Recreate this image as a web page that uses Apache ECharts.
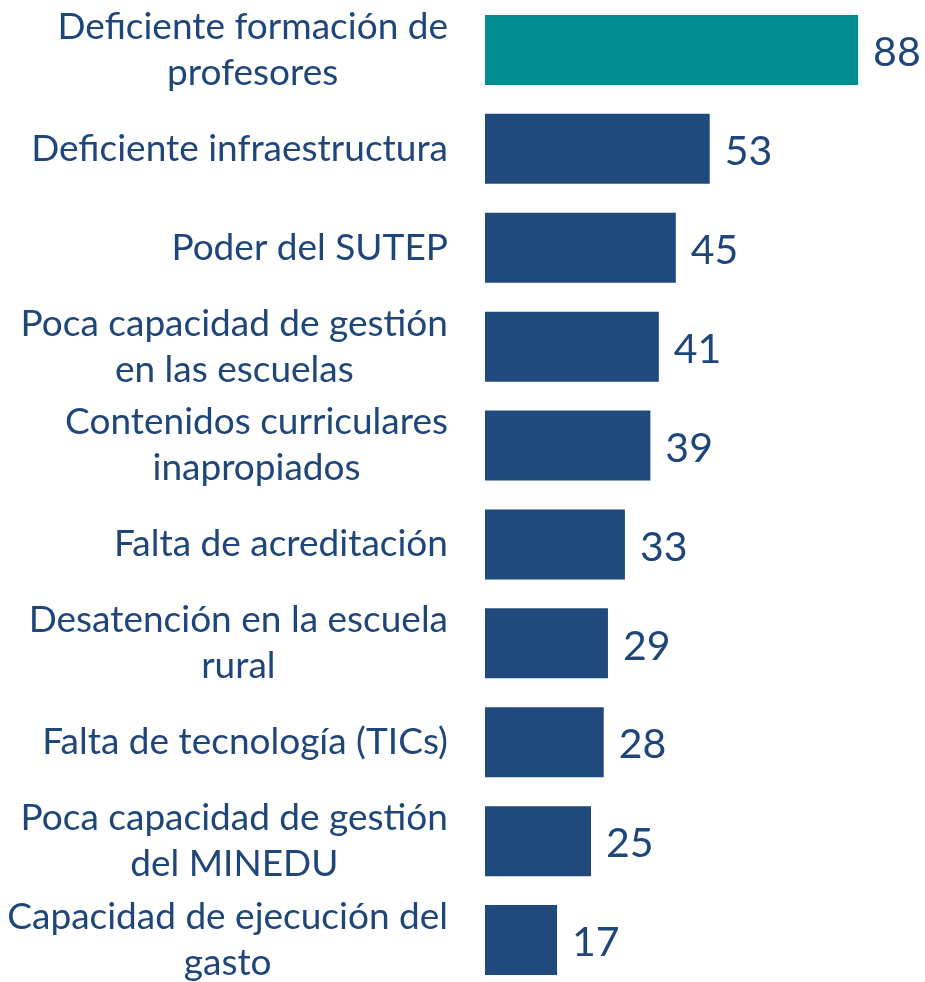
<!DOCTYPE html>
<html>
<head>
<meta charset="utf-8">
<title>Problemas de la educación</title>
<script src="https://cdn.jsdelivr.net/npm/echarts@6/dist/echarts.min.js"></script>
<style>
  html, body { margin: 0; padding: 0; background: #fff; }
  #main { width: 925px; height: 982px; }
</style>
</head>
<body>
<div id="main"></div>
<script>
// categorias (de arriba hacia abajo)
var categories = [
    'Deficiente formación de\nprofesores',
    'Deficiente infraestructura',
    'Poder del SUTEP',
    'Poca capacidad de gestión\nen las escuelas',
    'Contenidos curriculares\ninapropiados',
    'Falta de acreditación',
    'Desatención en la escuela\nrural',
    'Falta de tecnología (TICs)',
    'Poca capacidad de gestión\ndel MINEDU',
    'Capacidad de ejecución del\ngasto'
];
var values = [88, 53, 45, 41, 39, 33, 29, 28, 25, 17];

var textColor = '#1f467a';
var font = 'Lato';

var chart = echarts.init(document.getElementById('main'));

var option = {
    animation: false,
    grid: {
        left: 485,
        top: 0.5,
        width: 424,
        height: 989,
        outerBoundsMode: 'none'
    },
    xAxis: {
        type: 'value',
        min: 0,
        max: 100,
        show: false
    },
    yAxis: {
        type: 'category',
        inverse: true,
        data: categories,
        axisLine: { show: false },
        axisTick: { show: false },
        axisLabel: {
            margin: 37,
            align: 'right',
            // cada linea centrada dentro del bloque
            formatter: function (v) {
                return v.split('\n').map(function (l) {
                    return '{c|' + l + '}';
                }).join('\n');
            },
            rich: {
                c: {
                    align: 'center',
                    fontSize: 37,
                    fontFamily: font,
                    color: textColor,
                    lineHeight: 46
                }
            }
        }
    },
    series: [
        {
            type: 'bar',
            barWidth: 70,
            data: values,
            itemStyle: {
                color: function (params) {
                    return params.dataIndex === 0 ? '#028c90' : '#1f4a7b';
                }
            },
            label: {
                show: true,
                position: 'right',
                distance: 15,
                offset: [0, 3],
                fontSize: 41,
                fontFamily: font,
                color: textColor
            }
        }
    ]
};

chart.setOption(option);
</script>
</body>
</html>
